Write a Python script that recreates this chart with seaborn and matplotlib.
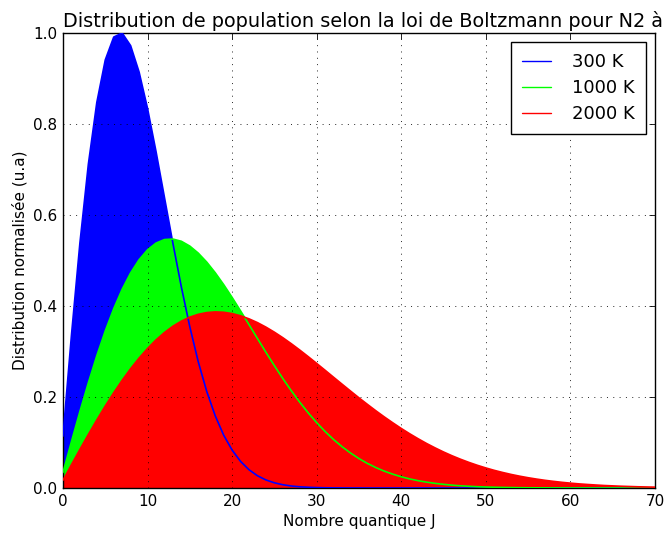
import numpy as np
import matplotlib
matplotlib.use('Agg')
import matplotlib.pyplot as plt
import seaborn as sns

# Nombre quantique J (0..70)
J = np.arange(0, 71)

# populations normalisees (max a 300 K = 1)
pop_300 = [0.1141, 0.3357, 0.5385, 0.7118, 0.8475, 0.9410, 0.9912, 1.0000, 0.9722, 0.9142,
           0.8341, 0.7397, 0.6386, 0.5375, 0.4414, 0.3540, 0.2771, 0.2121, 0.1588, 0.1162,
           0.0833, 0.0584, 0.0401, 0.0269, 0.0177, 0.0114, 0.0072, 0.0044, 0.0027, 0.0016,
           0.0009, 0.0005, 0.0003, 0.0002, 0.0001, 0.0001, 0.0, 0.0, 0.0, 0.0,
           0.0, 0.0, 0.0, 0.0, 0.0, 0.0, 0.0, 0.0, 0.0, 0.0,
           0.0, 0.0, 0.0, 0.0, 0.0, 0.0, 0.0, 0.0, 0.0, 0.0,
           0.0, 0.0, 0.0, 0.0, 0.0, 0.0, 0.0, 0.0, 0.0, 0.0, 0.0]
pop_1000 = [0.0342, 0.1021, 0.1682, 0.2314, 0.2908, 0.3453, 0.3942, 0.4369, 0.4729, 0.5018,
            0.5236, 0.5383, 0.5461, 0.5472, 0.5423, 0.5317, 0.5162, 0.4965, 0.4732, 0.4471,
            0.4189, 0.3893, 0.3590, 0.3284, 0.2982, 0.2688, 0.2405, 0.2137, 0.1885, 0.1651,
            0.1436, 0.1241, 0.1065, 0.0908, 0.0769, 0.0647, 0.0540, 0.0449, 0.0370, 0.0304,
            0.0247, 0.0200, 0.0161, 0.0129, 0.0102, 0.0081, 0.0063, 0.0049, 0.0038, 0.0029,
            0.0022, 0.0017, 0.0013, 0.0010, 0.0007, 0.0005, 0.0004, 0.0003, 0.0002, 0.0002,
            0.0001, 0.0001, 0.0001, 0.0, 0.0, 0.0, 0.0, 0.0, 0.0, 0.0, 0.0]
pop_2000 = [0.0171, 0.0512, 0.0848, 0.1177, 0.1496, 0.1803, 0.2094, 0.2368, 0.2623, 0.2856,
            0.3067, 0.3255, 0.3418, 0.3556, 0.3668, 0.3756, 0.3818, 0.3856, 0.3871, 0.3863,
            0.3834, 0.3785, 0.3718, 0.3635, 0.3536, 0.3425, 0.3303, 0.3171, 0.3032, 0.2887,
            0.2738, 0.2587, 0.2434, 0.2282, 0.2131, 0.1982, 0.1838, 0.1697, 0.1562, 0.1433,
            0.1309, 0.1192, 0.1082, 0.0978, 0.0882, 0.0792, 0.0709, 0.0633, 0.0563, 0.0499,
            0.0441, 0.0388, 0.0341, 0.0298, 0.0260, 0.0226, 0.0196, 0.0169, 0.0146, 0.0125,
            0.0107, 0.0091, 0.0078, 0.0066, 0.0055, 0.0047, 0.0039, 0.0033, 0.0027, 0.0023, 0.0019]

labels = ['300 K', '1000 K', '2000 K']
colors = ['#0000ff', '#00ff00', '#ff0000']

sns.set_style('white')
plt.rcParams['font.family'] = ['DejaVu Sans']
plt.rcParams['text.color'] = 'k'
plt.rcParams['axes.labelcolor'] = 'k'
plt.rcParams['xtick.color'] = 'k'
plt.rcParams['ytick.color'] = 'k'

fig = plt.figure(figsize=(6.68, 5.33), dpi=100)
ax = fig.add_axes([0.0943, 0.0844, 0.8862, 0.8536])

series = [pop_300, pop_1000, pop_2000]
for y, c in zip(series, colors):
    ax.fill_between(J, y, 0, facecolor=c, edgecolor='none', zorder=1)
for y, c, lab in zip(series, colors, labels):
    sns.lineplot(x=J, y=y, color=c, label=lab, linewidth=1.2, ax=ax, zorder=3)

ax.set_xlim(0, 70)
ax.set_ylim(0, 1.0)
ax.set_xticks(np.arange(0, 71, 10))
ax.set_yticks(np.arange(0, 1.01, 0.2))
ax.set_yticklabels(['0.0', '0.2', '0.4', '0.6', '0.8', '1.0'])
ax.grid(True, color='k', linestyle=(0, (1, 5.5)), linewidth=0.7, alpha=0.85, zorder=2)
ax.set_axisbelow(False)
ax.tick_params(direction='in', top=True, right=True, length=4, width=0.6,
               labelsize=11, pad=4)
for s in ax.spines.values():
    s.set_color('k')
    s.set_linewidth(1.0)

ax.set_title('Distribution de population selon la loi de Boltzmann pour N2 à',
             fontsize=13.9, pad=4, x=0.507)
ax.set_xlabel('Nombre quantique J', fontsize=11)
ax.set_ylabel('Distribution normalisée (u.a)', fontsize=11)

leg = ax.legend(loc='upper right', fontsize=13, fancybox=False, framealpha=1,
                edgecolor='k', handlelength=1.6, handletextpad=1.2,
                borderpad=0.6, labelspacing=0.45, borderaxespad=0.5)
leg.get_frame().set_linewidth(1.0)
for h in leg.get_lines():
    h.set_linewidth(1.0)

fig.savefig('out.png', dpi=100)
